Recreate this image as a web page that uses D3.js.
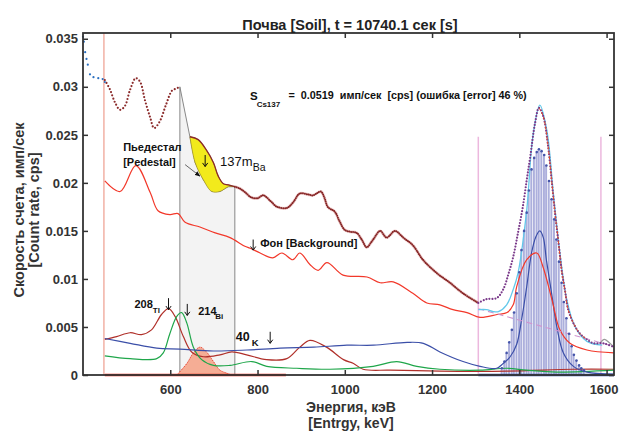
<!DOCTYPE html>
<html>
<head>
<meta charset="utf-8">
<script src="https://cdn.jsdelivr.net/npm/d3@7"></script>
<style>
  body { margin: 0; background: #fff; }
  svg { display: block; font-family: "Liberation Sans", Arial, sans-serif; }
</style>
</head>
<body>
<div id="chart"></div>
<script>
// размеры и поля
const W = 619, H = 432;
const margin = {top: 33, right: 5, bottom: 57, left: 83};

// тики
const xTicks = [600, 800, 1000, 1200, 1400, 1600];
const xTickLabels = ["600", "800", "1000", "1200", "1400", "1600"];
const yTicks = [0, 0.005, 0.01, 0.015, 0.02, 0.025, 0.03, 0.035];
const yTickLabels = ["0", "0.005", "0.01", "0.015", "0.02", "0.025", "0.03", "0.035"];

// спектр ниже порога (синие точки)
const lowE = [400, 402, 405, 408, 411, 416, 424, 435, 445, 450];
const lowV = [0.0352, 0.0347, 0.0336, 0.0329, 0.0323, 0.0313, 0.0310, 0.0309, 0.0308, 0.0305];

// измеренный спектр
const spec1E = [450, 462, 473, 485, 496, 508, 521, 531, 542, 554, 563, 576, 590, 604, 613, 622];
const spec1V = [0.0307, 0.0297, 0.0284, 0.0276, 0.0280, 0.0297, 0.0309, 0.0305, 0.0286, 0.0268, 0.0257, 0.0264, 0.0281, 0.0296, 0.0298, 0.0300];
const peakE = [645, 664, 683, 699, 710, 722, 733, 748];
const peakV = [0.0248, 0.0245, 0.0234, 0.0221, 0.0207, 0.0199, 0.0198, 0.0196];
const pedE = [622, 645, 657, 676, 695, 714, 733, 748];
const pedV = [0.0300, 0.0248, 0.0221, 0.0203, 0.0191, 0.0191, 0.0196, 0.0196];
const spec2E = [748, 760, 772, 785, 800, 813, 830, 845, 868, 882, 897, 915, 927, 945, 953, 961, 977, 988, 1000, 1013, 1027, 1040, 1050, 1065, 1081, 1096, 1115, 1134, 1156, 1179, 1211, 1241, 1271, 1306];
const spec2V = [0.0196, 0.0194, 0.0190, 0.0185, 0.0184, 0.0187, 0.0181, 0.0175, 0.0174, 0.0180, 0.0189, 0.0188, 0.0187, 0.0191, 0.0185, 0.0175, 0.0170, 0.0160, 0.0151, 0.0149, 0.0148, 0.0140, 0.0133, 0.0141, 0.0150, 0.0143, 0.0150, 0.0143, 0.0135, 0.0120, 0.0106, 0.0096, 0.0085, 0.0075];
const spec3E = [1306, 1325, 1348, 1363, 1375, 1386, 1397, 1408, 1417, 1425, 1436, 1445, 1455, 1466, 1474, 1482, 1490, 1497, 1505, 1512, 1525, 1539, 1555, 1570, 1592, 1617];
const spec3V = [0.0075, 0.0079, 0.0080, 0.0089, 0.0105, 0.0123, 0.0148, 0.0175, 0.0203, 0.0227, 0.0262, 0.0278, 0.0269, 0.0238, 0.0203, 0.0168, 0.0137, 0.0109, 0.0087, 0.0068, 0.0053, 0.0043, 0.0037, 0.0033, 0.0033, 0.0029];

// фон [Background]
const bgE = [450, 485, 521, 554, 572, 599, 618, 634, 668, 703, 737, 771, 783, 806, 835, 856, 881, 897, 920, 939, 959, 996, 1051, 1081, 1111, 1156, 1188, 1218, 1248, 1280, 1310, 1349, 1372, 1386, 1394, 1417, 1440, 1454, 1475, 1493, 1516, 1555, 1617];
const bgV = [0.0202, 0.0191, 0.0218, 0.0190, 0.0171, 0.0167, 0.0168, 0.0159, 0.0154, 0.0148, 0.0143, 0.0134, 0.0132, 0.0127, 0.0122, 0.0127, 0.0120, 0.0127, 0.0115, 0.0109, 0.0117, 0.0104, 0.0102, 0.0096, 0.0097, 0.0085, 0.0075, 0.0073, 0.0068, 0.0065, 0.0060, 0.0063, 0.0065, 0.0073, 0.0092, 0.0120, 0.0127, 0.0113, 0.0078, 0.0047, 0.0033, 0.0026, 0.0023];

// компоненты
const blueE = [450, 508, 569, 622, 699, 776, 852, 929, 1005, 1066, 1143, 1180, 1218, 1271, 1310, 1348, 1363, 1379, 1394, 1405, 1417, 1428, 1438, 1447, 1455, 1462, 1474, 1486, 1501, 1524, 1555, 1617];
const blueV = [0.0038, 0.0033, 0.0028, 0.0027, 0.0025, 0.0026, 0.0028, 0.0029, 0.0031, 0.0031, 0.0034, 0.0033, 0.0024, 0.0014, 0.0009, 0.0007, 0.0012, 0.0019, 0.0032, 0.0057, 0.0092, 0.0127, 0.0144, 0.0150, 0.0143, 0.0120, 0.0085, 0.0050, 0.0023, 0.0009, 0.0003, 0.0001];
const greenE = [450, 508, 569, 584, 599, 615, 626, 638, 653, 672, 699, 737, 787, 821, 890, 966, 1065, 1119, 1165, 1218, 1310, 1371, 1417, 1486, 1617];
const greenV = [0.0020, 0.0017, 0.0017, 0.0023, 0.0043, 0.0061, 0.0065, 0.0054, 0.0029, 0.0016, 0.0010, 0.0010, 0.0014, 0.0009, 0.0007, 0.0006, 0.0009, 0.0014, 0.0009, 0.0006, 0.0005, 0.0007, 0.0005, 0.0003, 0.0005];
const tlE = [450, 477, 508, 534, 557, 580, 596, 611, 630, 649, 676, 714, 741, 775, 821, 867, 897, 920, 958, 997, 1020, 1042, 1104, 1218, 1371, 1524, 1617];
const tlV = [0.0037, 0.0040, 0.0044, 0.0042, 0.0047, 0.0063, 0.0069, 0.0061, 0.0040, 0.0024, 0.0019, 0.0021, 0.0024, 0.0021, 0.0016, 0.0017, 0.0029, 0.0036, 0.0029, 0.0016, 0.0012, 0.0006, 0.0005, 0.0004, 0.0004, 0.0006, 0.0006];
const biE = [615, 638, 653, 668, 683, 699, 714, 729, 740];
const biV = [0.0000, 0.0012, 0.0023, 0.0029, 0.0024, 0.0014, 0.0005, 0.0002, 0.0000];
const cyanE = [1306, 1325, 1340, 1352, 1371, 1386, 1397, 1417, 1431, 1447, 1463, 1478, 1493, 1509, 1528, 1555, 1590];
const cyanV = [0.0068, 0.0068, 0.0066, 0.0066, 0.0073, 0.0089, 0.0106, 0.0172, 0.0248, 0.0281, 0.0255, 0.0189, 0.0127, 0.0078, 0.0050, 0.0035, 0.0031];
const greyE = [1585, 1595, 1605, 1617];
const greyV = [0.0033, 0.0037, 0.0034, 0.0029];

// пик (гистограмма и точки)
const csE = [1360, 1366, 1371, 1377, 1383, 1388, 1394, 1400, 1405, 1411, 1417, 1422, 1428, 1434, 1440, 1445, 1451, 1457, 1462, 1468, 1474, 1480, 1485, 1491, 1497, 1502, 1508, 1514, 1520, 1525, 1531, 1537, 1542, 1548];
const csV = [0.0007, 0.0014, 0.0023, 0.0034, 0.0047, 0.0065, 0.0085, 0.0107, 0.0130, 0.0150, 0.0169, 0.0192, 0.0214, 0.0226, 0.0232, 0.0235, 0.0233, 0.0229, 0.0218, 0.0202, 0.0183, 0.0162, 0.0141, 0.0118, 0.0096, 0.0076, 0.0059, 0.0043, 0.0030, 0.0021, 0.0015, 0.0010, 0.0007, 0.0005];

// линейная подложка и границы окна
const baseE = [1306, 1615];
const baseV = [0.0069, 0.0030];
const roiE = [1306, 1587];
const roiTop = 0.0248;
const thresholdE = 448;

const svg = d3.select("#chart").append("svg")
    .attr("width", W)
    .attr("height", H);

const x = d3.scaleLinear().domain([400, 1617]).range([margin.left, W - margin.right]);
const y = d3.scaleLinear().domain([0, 0.0356]).range([H - margin.bottom, margin.top]);

const zip = (es, vs) => es.map((e, i) => [e, vs[i]]);
const line = d3.line().x(d => x(d[0])).y(d => y(d[1])).curve(d3.curveCatmullRom);
const straight = d3.line().x(d => x(d[0])).y(d => y(d[1]));

const plot = svg.append("g");

// пьедестал
const pedPts = [[pedE[0], 0]].concat(zip(pedE, pedV), [[pedE[pedE.length - 1], 0]]);
plot.append("path")
    .attr("d", straight(pedPts))
    .attr("fill", "#f3f3f3")
    .attr("stroke", "#7a7a7a")
    .attr("stroke-width", 0.9);

// 137mBa (жёлтая область)
const ped2 = zip(pedE, pedV).filter(d => d[0] >= peakE[0]).reverse();
const yellowPts = zip(peakE, peakV).concat(ped2);
plot.append("path")
    .attr("d", line(yellowPts) + "Z")
    .attr("fill", "#f2ea1c")
    .attr("stroke", "#8a7a20")
    .attr("stroke-width", 0.6);

// гистограмма пика
const bw = x(1405.6) - x(1400);
plot.selectAll(".bar").data(zip(csE, csV)).enter().append("rect")
    .attr("class", "bar")
    .attr("x", d => x(d[0]) - bw / 2)
    .attr("width", bw - 0.5)
    .attr("y", d => y(d[1]))
    .attr("height", d => y(0) - y(d[1]))
    .attr("fill", "#acafdc");

// 214Bi
plot.append("path")
    .attr("d", d3.area().x(d => x(d[0])).y0(y(0)).y1(d => y(d[1])).curve(d3.curveCatmullRom)(zip(biE, biV)))
    .attr("fill", "#f5ad95")
    .attr("stroke", "#e8321e")
    .attr("stroke-width", 1)
    .attr("stroke-dasharray", "1.2 1");

// толстые линии по оси
plot.append("path")
    .attr("d", straight([[450, 0], [865, 0]]))
    .attr("stroke", "#ee2a1a").attr("stroke-width", 2.6).attr("fill", "none");
plot.append("path")
    .attr("d", straight([[1306, 0], [1617, 0]]))
    .attr("stroke", "#3b55b0").attr("stroke-width", 2.6).attr("fill", "none");

// границы окна
roiE.forEach(e => {
    plot.append("path")
        .attr("d", straight([[e, 0], [e, roiTop]]))
        .attr("stroke", "#ecb8de").attr("stroke-width", 1.5);
});
plot.append("path")
    .attr("d", straight([[thresholdE, 0], [thresholdE, 0.0356]]))
    .attr("stroke", "#ea8a78").attr("stroke-width", 1);

// линии
function drawLine(es, vs, color, w, dash) {
    const p = plot.append("path")
        .attr("d", line(zip(es, vs)))
        .attr("fill", "none")
        .attr("stroke", color)
        .attr("stroke-width", w);
    if (dash) p.attr("stroke-dasharray", dash);
    return p;
}

drawLine(tlE, tlV, "#b0302a", 1.2);
drawLine(greenE, greenV, "#1fa64a", 1.2);
drawLine(blueE, blueV, "#3b4fa8", 1.2);
drawLine(bgE, bgV, "#f2382a", 1.2);
drawLine(baseE, baseV, "#cf94cf", 1.1, "6 4");
drawLine(cyanE, cyanV, "#63c8ea", 1.3);
drawLine(greyE, greyV, "#9a9a9a", 1.3);

// спектр
drawLine(spec2E, spec2V, "#e4a7a7", 3).attr("opacity", 0.55);
drawLine(spec1E, spec1V, "#8b2a2a", 2.2, "0 3.4").attr("stroke-linecap", "round");
drawLine(peakE, peakV, "#8b2a2a", 1.3);
drawLine(spec2E, spec2V, "#862626", 2, "0 1.9").attr("stroke-linecap", "round");
drawLine(spec3E, spec3V, "#7a3a8a", 2.2, "0 3").attr("stroke-linecap", "round");
drawLine(spec3E.slice(11, 23), spec3V.slice(11, 23), "#e8502a", 1, "3 2");

// точки пика
plot.selectAll(".csdot").data(zip(csE, csV)).enter().append("circle")
    .attr("cx", d => x(d[0])).attr("cy", d => y(d[1]))
    .attr("r", 1.3).attr("fill", "#4555aa");

// точки ниже порога
plot.selectAll(".lowdot").data(zip(lowE, lowV)).enter().append("circle")
    .attr("cx", d => x(d[0])).attr("cy", d => y(d[1]))
    .attr("r", 1.1).attr("fill", "#2a6fc0");

// оси
const axisColor = "#333";
const gx = svg.append("g").attr("transform", `translate(0,${H - margin.bottom})`)
    .call(d3.axisBottom(x).tickValues(xTicks).tickFormat((d, i) => xTickLabels[i]).tickSizeInner(-5).tickSizeOuter(0).tickPadding(10));
const gxt = svg.append("g").attr("transform", `translate(0,${margin.top})`)
    .call(d3.axisTop(x).tickValues(xTicks).tickFormat("").tickSizeInner(-5).tickSizeOuter(0));
const gy = svg.append("g").attr("transform", `translate(${margin.left},0)`)
    .call(d3.axisLeft(y).tickValues(yTicks).tickFormat((d, i) => yTickLabels[i]).tickSizeInner(-5).tickSizeOuter(0).tickPadding(5));
const gyr = svg.append("g").attr("transform", `translate(${W - margin.right},0)`)
    .call(d3.axisRight(y).tickValues(yTicks).tickFormat("").tickSizeInner(-5).tickSizeOuter(0));
[gx, gxt, gy, gyr].forEach(g => {
    g.select(".domain").remove();
    g.selectAll(".tick line").attr("stroke", axisColor).attr("stroke-width", 1.5);
    g.selectAll("text").attr("font-size", 13).attr("font-weight", "bold").attr("fill", axisColor)
        .attr("font-family", "'Liberation Sans', Arial, sans-serif");
});
// последняя подпись у края — чуть левее
gx.selectAll(".tick text").filter((d, i) => i === xTicks.length - 1).attr("dx", -3);

svg.append("rect")
    .attr("x", margin.left).attr("y", margin.top)
    .attr("width", W - margin.left - margin.right)
    .attr("height", H - margin.top - margin.bottom)
    .attr("fill", "none").attr("stroke", axisColor).attr("stroke-width", 1.8);

// подписи
svg.append("text").attr("x", 350).attr("y", 30).attr("text-anchor", "middle")
    .attr("font-size", 14.5).attr("font-weight", "bold").attr("fill", "#222")
    .text("Почва [Soil], t = 10740.1 сек [s]");
svg.append("text").attr("x", 351).attr("y", 412).attr("text-anchor", "middle")
    .attr("font-size", 14).attr("font-weight", "bold").attr("fill", "#333")
    .text("Энергия, кэВ");
svg.append("text").attr("x", 351).attr("y", 428).attr("text-anchor", "middle")
    .attr("font-size", 14).attr("font-weight", "bold").attr("fill", "#333")
    .text("[Entrgy, keV]");
const yl = svg.append("g").attr("transform", "translate(24,210) rotate(-90)");
yl.append("text").attr("x", 0).attr("y", 0).attr("text-anchor", "middle")
    .attr("font-size", 14.5).attr("font-weight", "bold").attr("fill", "#333")
    .text("Скорость счета, имп/сек");
yl.append("text").attr("x", 0).attr("y", 15).attr("text-anchor", "middle")
    .attr("font-size", 14.5).attr("font-weight", "bold").attr("fill", "#333")
    .text("[Count rate, cps]");

// аннотации (в координатах данных)
function note(e, v, str, size, bold, anchor) {
    return svg.append("text").attr("x", x(e)).attr("y", y(v))
        .attr("font-size", size).attr("font-weight", bold ? "bold" : "normal")
        .attr("fill", "#111").attr("text-anchor", anchor || "start")
        .style("white-space", "pre").text(str);
}
// стрелка вниз, как знак ↓
function downArrow(e, v1, v2) {
    const px = x(e), top = y(v1), bot = y(v2);
    svg.append("path")
        .attr("d", `M${px},${top}L${px},${bot}M${px - 2.6},${bot - 3.6}L${px},${bot}L${px + 2.6},${bot - 3.6}`)
        .attr("fill", "none").attr("stroke", "#111").attr("stroke-width", 1);
}

note(783, 0.0286, "S", 11.5, true);
note(798, 0.0279, "Cs137", 8, true);
note(871, 0.0287, "=  0.0519  имп/сек  [cps] (ошибка [error] 46 %)", 10.8, true);

note(492, 0.0233, "Пьедестал", 11, true);
note(492, 0.0218, "[Pedestal]", 11, true);
svg.append("defs").append("marker")
    .attr("id", "ah").attr("viewBox", "0 0 10 10").attr("refX", 9).attr("refY", 5)
    .attr("markerWidth", 7).attr("markerHeight", 7).attr("orient", "auto")
    .append("path").attr("d", "M0,1 L10,5 L0,9 Z").attr("fill", "#111");
svg.append("path")
    .attr("d", straight([[634, 0.0219], [668, 0.0207]]))
    .attr("stroke", "#444").attr("stroke-width", 0.8).attr("marker-end", "url(#ah)");

downArrow(680, 0.0229, 0.0217);
note(714, 0.0218, "137m", 13, false);
note(789, 0.0212, "Ba", 10.5, false);

downArrow(790, 0.0141, 0.0130);
note(806, 0.0133, "Фон [Background]", 11, true);

note(518, 0.0070, "208", 11, true);
note(560, 0.0065, "Tl", 8, true);
downArrow(596, 0.0080, 0.0068);
downArrow(639, 0.0074, 0.0062);
note(664, 0.0062, "214", 11, true);
note(703, 0.0058, "Bi", 8, true);
note(750, 0.0035, "40", 12.5, true);
note(787, 0.0030, "K", 9.5, true);
downArrow(829, 0.0045, 0.0033);
</script>
</body>
</html>
